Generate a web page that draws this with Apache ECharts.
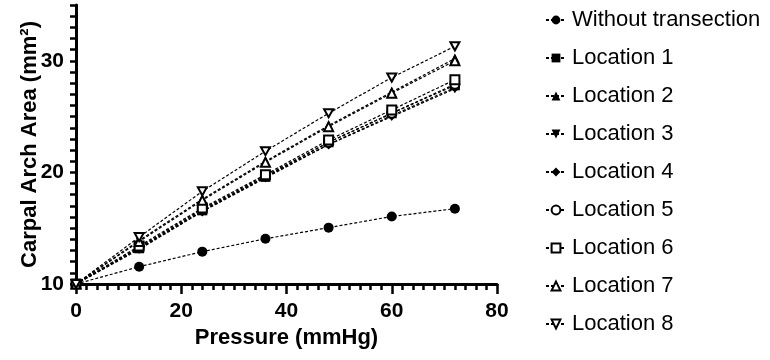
<!DOCTYPE html>
<html>
<head>
<meta charset="utf-8">
<script src="https://cdn.jsdelivr.net/npm/echarts@6/dist/echarts.min.js"></script>
<style>html,body{margin:0;padding:0;background:#fff;}#c{width:770px;height:360px;}</style>
</head>
<body>
<div id="c"></div>
<script>
const pressure = [0, 12, 24, 36, 48, 60, 72];
const seriesNames = ['Without transection','Location 1','Location 2','Location 3','Location 4','Location 5','Location 6','Location 7','Location 8'];
const withoutTransection = [10, 11.55, 12.9, 14.05, 15.05, 16.05, 16.75];
const location1 = [10, 13.2, 16.6, 19.6, 22.7, 25.3, 27.8];
const location2 = [10, 13.9, 17.6, 21.0, 24.2, 27.2, 30.2];
const location3 = [10, 13.1, 16.5, 19.5, 22.5, 25.0, 27.5];
const location4 = [10, 13.2, 16.5, 19.6, 22.5, 25.1, 27.6];
const location5 = [10, 13.3, 16.7, 19.7, 22.7, 25.3, 27.9];
const location6 = [10, 13.4, 16.8, 19.8, 22.9, 25.6, 28.3];
const location7 = [10, 13.8, 17.5, 20.9, 24.1, 27.1, 30.0];
const location8 = [10, 14.2, 18.3, 21.9, 25.3, 28.5, 31.3];
const xTicks = [0, 20, 40, 60, 80];
const yTickLabels = [10, 20, 30];

const allValues = [withoutTransection, location1, location2, location3, location4, location5, location6, location7, location8];
const DOWN_TRI = 'path://M0,0L10,0L5,9Z';
const symbols = [
  {symbol:'circle', open:false},
  {symbol:'rect', open:false},
  {symbol:'triangle', open:false},
  {symbol:DOWN_TRI, open:false},
  {symbol:'diamond', open:false},
  {symbol:'circle', open:true},
  {symbol:'rect', open:true},
  {symbol:'triangle', open:true},
  {symbol:DOWN_TRI, open:true}
];

const series = seriesNames.map((name, i) => ({
  name: name,
  type: 'line',
  data: pressure.map((p, j) => [p, allValues[i][j]]),
  symbol: symbols[i].symbol,
  symbolSize: symbols[i].open ? 9 : 10,
  symbolKeepAspect: true,
  showAllSymbol: true,
  lineStyle: {color:'#000', width:1.2, type:[3,2]},
  itemStyle: symbols[i].open ? {color:'#fff', borderColor:'#000', borderWidth:2} : {color:'#000', borderColor:'#000', borderWidth:0},
  emphasis: {disabled:true},
  animation: false
}));

const chart = echarts.init(document.getElementById('c'), null, {renderer:'canvas'});
chart.setOption({
  backgroundColor: '#fff',
  animation: false,
  grid: {left:76, right:273, top:5, bottom:76, containLabel:false},
  xAxis: {
    type:'value', min:0, max:80, interval:20,
    name:'Pressure (mmHg)', nameLocation:'middle', nameGap:43, nameMoveOverlap:false,
    nameTextStyle:{fontFamily:'Liberation Sans', fontWeight:'bold', fontSize:22, color:'#000'},
    axisLine:{show:true, onZero:false, lineStyle:{color:'#000', width:3}},
    axisTick:{show:true, length:10, lineStyle:{color:'#000', width:2.5}},
    minorTick:{show:true, splitNumber:10, length:6, lineStyle:{color:'#000', width:2.5}},
    splitLine:{show:false},
    axisLabel:{margin:17, fontFamily:'Liberation Sans', fontWeight:'bold', fontSize:21, color:'#000',
      formatter: v => xTicks.includes(v) ? String(v) : ''}
  },
  yAxis: {
    type:'value', min:10, max:35, interval:1,
    name:'Carpal Arch Area (mm²)', nameLocation:'middle', nameGap:35, nameMoveOverlap:false,
    nameTextStyle:{fontFamily:'Liberation Sans', fontWeight:'bold', fontSize:22, color:'#000'},
    axisLine:{show:true, onZero:false, lineStyle:{color:'#000', width:3}},
    axisTick:{show:true, length:6, lineStyle:{color:'#000', width:2.5}},
    splitLine:{show:false},
    axisLabel:{margin:12, fontFamily:'Liberation Sans', fontWeight:'bold', fontSize:21, color:'#000',
      formatter: v => yTickLabels.includes(v) ? String(v) : ''}
  },
  legend: {
    orient:'vertical', left:540, top:4,
    itemWidth:20, itemHeight:11, itemGap:16,
    data: seriesNames,
    textStyle:{fontFamily:'Liberation Sans', fontSize:22, color:'#000', lineHeight:22, padding:[0,0,0,1]},
    selectedMode:false
  },
  series: series
});
</script>
</body>
</html>
